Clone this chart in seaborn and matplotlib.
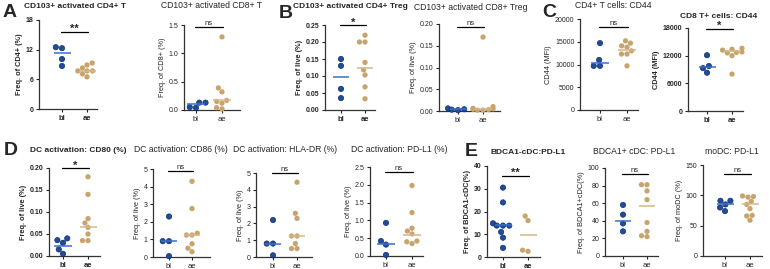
import matplotlib
matplotlib.use("Agg")
import matplotlib.pyplot as plt
import seaborn as sns
import pandas as pd
import numpy as np

sns.set_style("ticks")
plt.rcParams["font.family"] = ["Liberation Sans", "DejaVu Sans"]

groups = ["bl", "ae"]

# values, one pair of lists per panel
a1_bl = [12.3, 12.5, 10.1, 8.7]
a1_ae = [9.3, 8.9, 8.3, 7.7, 7.7, 7.7, 7.1, 6.5]
a2_bl = [0.13, 0.13, 0.04, 0.05]
a2_ae = [1.29, 0.39, 0.32, 0.17, 0.15, 0.12, 0.04, 0.02]
b1_bl = [0.15, 0.13, 0.062, 0.035]
b1_ae = [0.22, 0.20, 0.20, 0.14, 0.118, 0.103, 0.068, 0.033]
b2_bl = [0.002, 0.006, 0.004, 0.003]
b2_ae = [0.17, 0.010, 0.006, 0.005, 0.003, 0.002, 0.002, 0.004]
c1_bl = [14700, 11000, 9700, 9700]
c1_ae = [15200, 14700, 14100, 13800, 13000, 12300, 12300, 9700]
c2_bl = [12100, 9750, 9300, 8300]
c2_ae = [13600, 13400, 13200, 12800, 12700, 12600, 12000, 8000]
d1_bl = [0.040, 0.036, 0.030, 0.015, 0.005]
d1_ae = [0.18, 0.14, 0.085, 0.075, 0.065, 0.05, 0.035, 0.035]
d2_bl = [2.3, 0.9, 0.9, 0.05]
d2_ae = [4.3, 2.75, 1.35, 1.25, 1.25, 0.75, 0.5, 0.3]
d3_bl = [2.2, 0.8, 0.8, 0.1]
d3_ae = [4.45, 2.6, 2.3, 1.25, 1.25, 0.8, 0.5, 0.5]
d4_bl = [0.93, 0.42, 0.32, 0.03]
d4_ae = [1.98, 1.22, 0.78, 0.7, 0.62, 0.42, 0.4, 0.35]
e1_bl = [30.5, 24.0, 14.8, 13.8, 13.8, 13.8, 11.0, 8.5, 4.0]
e1_ae = [18.0, 16.0, 3.0, 2.5]
e2_bl = [58, 47, 37, 28]
e2_ae = [81, 81, 74, 64, 38, 28, 23, 22]
e3_bl = [91, 91, 85, 80, 74]
e3_ae = [99, 97, 98, 90, 85, 78, 67, 66, 59]

# horizontal group lines (as drawn in the reference)
lines_bl = [11.3, 0.10, 0.097, 0.004, 10300, 9500, 0.023, 0.9, 0.8, 0.35, 14.0, 40, 85]
lines_ae = [7.7, 0.17, 0.125, 0.004, 13200, 13000, 0.066, 1.25, 1.25, 0.6, 9.5, 57, 85]

titles = ["CD103+ activated CD4+ T", "CD103+ activated CD8+ T",
          "CD103+ activated CD4+ Treg", "CD103+ activated CD8+ Treg",
          "CD4+ T cells: CD44", "CD8 T+ cells: CD44",
          "DC activation: CD80 (%)", "DC activation: CD86 (%)",
          "DC activation: HLA-DR (%)", "DC activation: PD-L1 (%)",
          "BDCA1-cDC:PD-L1", "BDCA1+ cDC: PD-L1", "moDC: PD-L1"]
ylabels = ["Freq. of CD4+ (%)", "Freq. of CD8+ (%)", "Freq. of live (%)",
           "Freq. of live (%)", "CD44 (MFI)", "CD44 (MFI)",
           "Freq. of live (%)", "Freq. of live (%)", "Freq. of live (%)",
           "Freq. of live (%)", "Freq. of BDCA1-cDC(%)",
           "Freq. of BDCA1+cDC(%)", "Freq. of moDC (%)"]
sig = ["**", "ns", "*", "ns", "ns", "*", "*", "ns", "ns", "ns", "**", "ns", "ns"]
yticks = [[0, 6, 12, 18], [0.0, 0.5, 1.0, 1.5], [0, 0.05, 0.10, 0.15, 0.20, 0.25],
          [0, 0.05, 0.10, 0.15, 0.20], [0, 5000, 10000, 15000, 20000],
          [0, 6000, 12000, 18000], [0, 0.05, 0.10, 0.15, 0.20],
          [0, 1, 2, 3, 4, 5], [0, 1, 2, 3, 4, 5], [0, 0.5, 1.0, 1.5, 2.0, 2.5],
          [0, 10, 20, 30, 40], [0, 20, 40, 60, 80, 100], [0, 50, 100, 150]]
tick_fmt = ["{:.0f}", "{:.1f}", "{:.2f}", "{:.2f}", "{:.0f}", "{:.0f}", "{:.2f}",
            "{:.0f}", "{:.0f}", "{:.1f}", "{:.0f}", "{:.0f}", "{:.0f}"]
series = [(a1_bl, a1_ae), (a2_bl, a2_ae), (b1_bl, b1_ae), (b2_bl, b2_ae),
          (c1_bl, c1_ae), (c2_bl, c2_ae), (d1_bl, d1_ae), (d2_bl, d2_ae),
          (d3_bl, d3_ae), (d4_bl, d4_ae), (e1_bl, e1_ae), (e2_bl, e2_ae),
          (e3_bl, e3_ae)]
bold = [True, False, True, False, False, True, True, False, False, False, True, False, False]

# layout in pixels: left, top, right, bottom of axes, x of "bl" tick, x of "ae" tick
W, H = 770, 269
boxes = [(39, 20, 97, 109, 62, 87), (184, 25, 240, 110, 196, 222),
         (325, 25, 375, 110, 341, 365), (439, 24, 500, 111, 458, 483),
         (580, 19, 638, 110, 600, 627), (688, 28, 743, 111, 707, 732),
         (49, 168, 100, 256, 63, 88), (153, 169, 210, 257, 169, 192),
         (256, 173, 312, 257, 273, 297), (370, 167, 423, 256, 386, 412),
         (487, 166, 540, 257, 503, 528), (605, 168, 658, 256, 623, 647),
         (703, 165, 762, 256, 725, 750)]
title_xy = [(75, 7), (212, 6), (350, 7), (471, 7), (613, 6), (719, 16),
            (78, 150), (181, 150), (285, 150), (399, 150), (528, 152), (634, 152), (732, 152)]
sig_y = [0.87, 0.98, 1.0, 0.965, 0.91, 0.99, 1.0, 0.98, 1.0, 0.94, 0.895, 0.93, 0.9]
letters = [("A", 3, 4), ("B", 279, 5), ("C", 542, 4), ("D", 4, 142), ("E", 465, 143)]

blue, blue_edge, tan = "#1f4d9e", "#0f2d6b", "#c8a46c"
line_blue, line_tan = "#3d6fc7", "#d6b888"

fig = plt.figure(figsize=(W / 100, H / 100), dpi=100)

for i, (bl, ae) in enumerate(series):
    l, t, r, b, xb, xa = boxes[i]
    ax = fig.add_axes([l / W, 1 - b / H, (r - l) / W, (b - t) / H])
    df = pd.DataFrame({"group": ["bl"] * len(bl) + ["ae"] * len(ae),
                       "val": bl + ae})
    sns.swarmplot(data=df, x="group", y="val", hue="group", order=groups,
                  palette={"bl": blue, "ae": tan}, size=3.8, ax=ax,
                  legend=False, linewidth=0, clip_on=False, zorder=3)
    ax.collections[0].set_edgecolor(blue_edge)
    ax.collections[0].set_linewidth(0.5)
    ax.hlines(lines_bl[i], -0.34, 0.34, color=line_blue, lw=1.1, zorder=4)
    ax.hlines(lines_ae[i], 0.66, 1.34, color=line_tan, lw=1.1, zorder=4)
    unit = xa - xb
    ax.set_xlim(-(xb - l) / unit, (r - xb) / unit)
    ax.set_ylim(0, yticks[i][-1])
    ax.set_yticks(yticks[i])
    wt = "bold" if bold[i] else "normal"
    ax.set_yticklabels([tick_fmt[i].format(v) for v in yticks[i]], fontsize=5, fontweight=wt)
    ax.set_xticks([0, 1])
    ax.set_xticklabels(groups, fontsize=5.5, fontweight=wt)
    ax.set_xlabel("")
    ax.set_ylabel(ylabels[i], fontsize=5.3, fontweight=wt, labelpad=2)
    ax.tick_params(length=2.5, width=0.8, pad=1.5)
    for s in ["top", "right"]:
        ax.spines[s].set_visible(False)
    for s in ["left", "bottom"]:
        ax.spines[s].set_linewidth(0.9)
        ax.spines[s].set_color("#333333")
    ys = sig_y[i] * yticks[i][-1]
    ax.plot([-0.05, 1.05], [ys, ys], color="black", lw=0.9, clip_on=False)
    if sig[i] == "ns":
        ax.text(0.5, ys, "ns", ha="center", va="bottom", fontsize=5.5)
    else:
        ax.text(0.5, ys - 0.03 * yticks[i][-1], sig[i], ha="center", va="bottom",
                fontsize=8, fontweight="bold")
    tx, ty = title_xy[i]
    fig.text(tx / W, 1 - ty / H, titles[i], ha="center", va="center",
             fontsize=6.0 if bold[i] else 6.2, fontweight=wt)

for lt, x, y in letters:
    fig.text(x / W, 1 - y / H, lt, ha="left", va="top", fontsize=14, fontweight="bold")

fig.savefig("out.png", dpi=100)
